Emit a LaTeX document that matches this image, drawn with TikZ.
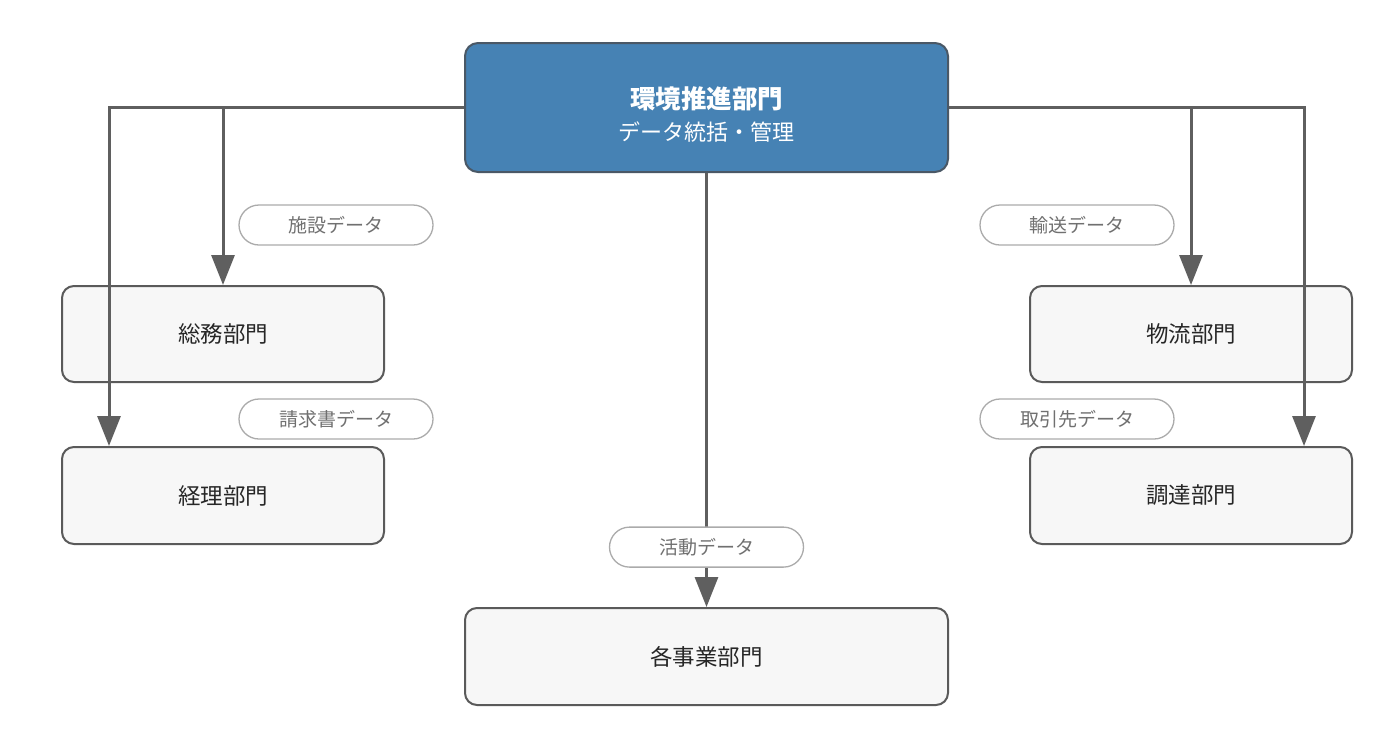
\documentclass[tikz,border=0pt]{standalone}
\usepackage{fontspec}
\setmainfont{Noto Sans CJK JP}
\usetikzlibrary{arrows.meta,calc}
\definecolor{topblue}{HTML}{4682B4}
\definecolor{topedge}{HTML}{4A5866}
\definecolor{boxfill}{HTML}{F7F7F7}
\definecolor{boxedge}{HTML}{5A5A5A}
\definecolor{connc}{HTML}{5F5F5F}
\definecolor{labedge}{HTML}{ABABAB}
\definecolor{labtext}{HTML}{707070}
\begin{document}
\begin{tikzpicture}[x=1pt,y=-1pt,
  topbox/.style={draw=topedge,fill=topblue,line width=2pt,rounded corners=13pt,
    minimum width=483pt,minimum height=129pt,inner sep=0pt,text=white,align=center},
  deptbox/.style={draw=boxedge,fill=boxfill,line width=2pt,rounded corners=12pt,
    minimum width=322pt,minimum height=96pt,inner sep=0pt,text=black!85,
    font=\fontsize{22.5}{26}\selectfont},
  widebox/.style={deptbox,minimum width=483pt,minimum height=97pt},
  pill/.style={draw=labedge,fill=white,line width=1.3pt,rounded corners=20pt,
    minimum width=194pt,minimum height=40pt,inner sep=0pt,text=labtext,
    font=\fontsize{19}{22}\selectfont},
  conn/.style={draw=connc,line width=3pt},
  arr/.style={conn,-{Triangle[width=23pt,length=30pt]}}
]
\useasboundingbox (0,0) rectangle (1399,750);
\fill[white] (0,0) rectangle (1399,750);

\node[topbox] (top) at (706.5,107.5) {\fontsize{25.5}{30}\selectfont\bfseries\rule{0pt}{36pt}環境推進部門\\[10pt]\fontsize{22}{30}\selectfont データ統括・管理};
\node[deptbox] (soumu) at (223,334) {総務部門};
\node[deptbox,minimum height=97pt] (keiri) at (223,495.5) {経理部門};
\node[deptbox] (butsu) at (1191,334) {物流部門};
\node[deptbox,minimum height=97pt] (chou) at (1191,495.5) {調達部門};
\node[widebox] (jigyo) at (706.5,656.5) {各事業部門};

\coordinate (kl) at ($(keiri.north west)+(48,0)$);
\coordinate (cr) at ($(chou.north east)+(-49,0)$);
\coordinate (lt) at (top.west |- 0,107);
\coordinate (rt) at (top.east |- 0,107);

\draw[arr] (lt) -| (kl);
\draw[arr] (soumu.north |- lt) -- (soumu.north);
\draw[arr] (rt) -| (cr);
\draw[arr] (butsu.north |- rt) -- (butsu.north);
\draw[arr] (top.south) -- node[pill,pos=0.862] (lkat) {活動データ} (jigyo.north);

\node[pill] (lshi) at (336,225) {施設データ};
\node[pill] (lsei) at (336,419) {請求書データ};
\node[pill] (lyu) at (1077,225) {輸送データ};
\node[pill] (ltor) at (1077,419) {取引先データ};
\end{tikzpicture}
\end{document}
